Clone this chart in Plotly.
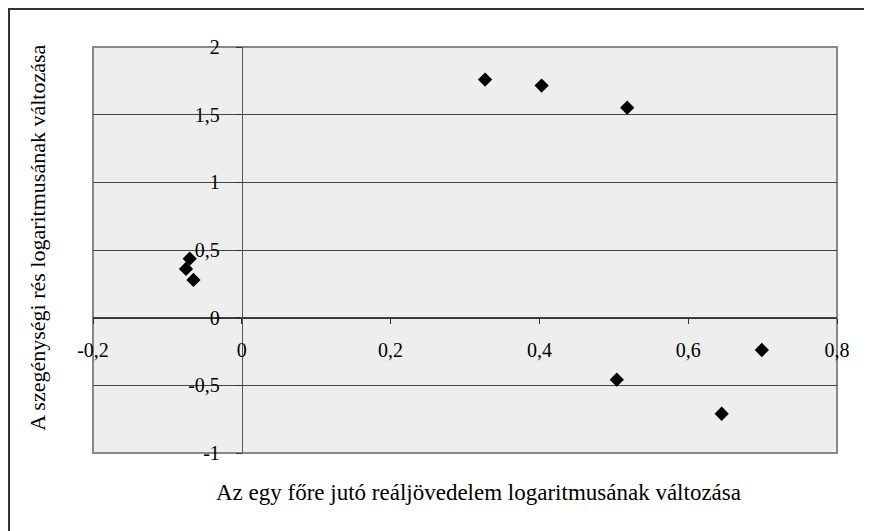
import plotly.graph_objects as go

# change in log real income per head vs change in log poverty gap
income_change = [-0.070, -0.075, -0.065, 0.327, 0.403, 0.518, 0.504, 0.645, 0.699]
gap_change = [0.436, 0.360, 0.279, 1.759, 1.715, 1.552, -0.458, -0.710, -0.239]

x_ticks = [-0.2, 0, 0.2, 0.4, 0.6, 0.8]
x_labels = ["-0,2", "0", "0,2", "0,4", "0,6", "0,8"]
y_ticks = [-1, -0.5, 0, 0.5, 1, 1.5, 2]
y_labels = ["-1", "-0,5", "0", "0,5", "1", "1,5", "2"]

serif = "Times New Roman, Liberation Serif, serif"
font = dict(family=serif, size=20, color="black")

fig = go.Figure()
fig.add_trace(go.Scatter(x=income_change, y=gap_change, mode="markers",
                         marker=dict(symbol="diamond", size=11, color="black")))

fig.update_layout(
    width=872, height=531,
    margin=dict(l=85, r=43, t=39, b=86),
    paper_bgcolor="white",
    plot_bgcolor="#eeeeee",
    showlegend=False,
    font=font,
    separators=", ",
    xaxis=dict(range=[-0.2, 0.8], tickvals=x_ticks, ticktext=x_labels,
               anchor="free", position=1/3, showgrid=False, zeroline=False,
               showline=True, linecolor="#333333", linewidth=1,
               ticks="outside", ticklen=5, tickcolor="#333333",
               ticklabelstandoff=9, automargin=False),
    yaxis=dict(range=[-1, 2], tickvals=y_ticks, ticktext=y_labels,
               anchor="free", position=0.2, showgrid=True, gridcolor="#444444",
               gridwidth=1, zeroline=False,
               showline=True, linecolor="#555555", linewidth=1,
               ticks="outside", ticklen=6, tickcolor="#333333",
               ticklabelstandoff=12, automargin=False),
    shapes=[
        dict(type="rect", xref="paper", yref="paper", x0=0, x1=1, y0=0, y1=1,
             line=dict(color="#888888", width=2), layer="below"),
        dict(type="rect", xref="paper", yref="paper", x0=-0.1129, x1=2, y0=-2, y1=1.0936,
             line=dict(color="#333333", width=2)),
    ],
    annotations=[
        dict(text="Az egy főre jutó reáljövedelem logaritmusának változása",
             xref="paper", yref="paper", x=0.5175, y=-0.0985, showarrow=False,
             xanchor="center", yanchor="middle",
             font=dict(family=serif, size=23, color="black")),
        dict(text="A szegénységi rés logaritmusának változása",
             xref="paper", yref="paper", x=-0.0739, y=0.53, showarrow=False,
             textangle=-90, xanchor="center", yanchor="middle",
             font=dict(family=serif, size=22, color="black")),
    ],
)

fig.write_html("out.html")
